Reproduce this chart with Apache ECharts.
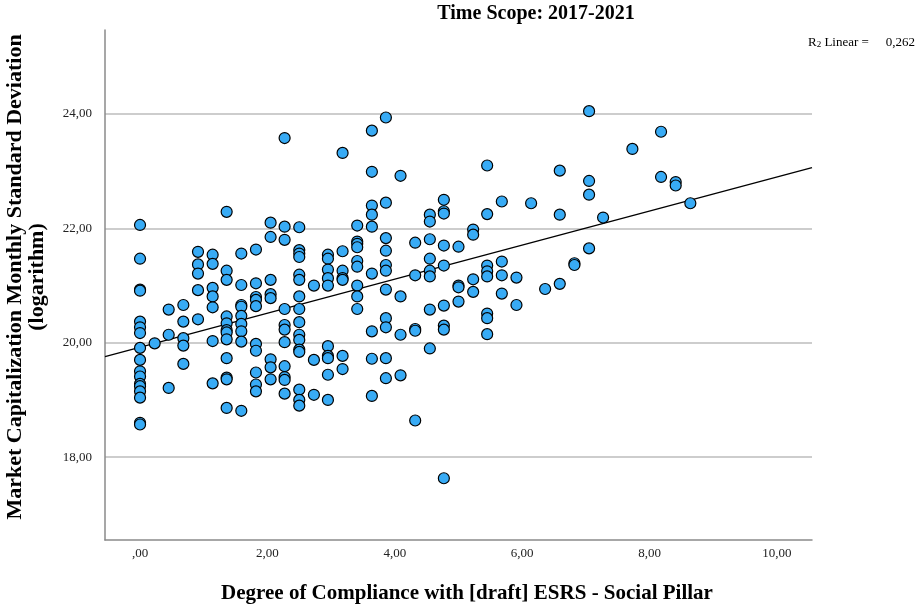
<!DOCTYPE html>
<html>
<head>
<meta charset="utf-8">
<script src="https://cdn.jsdelivr.net/npm/echarts@6/dist/echarts.min.js"></script>
<style>
  html, body { margin: 0; padding: 0; background: #ffffff; }
  #chart { width: 921px; height: 608px; }
</style>
</head>
<body>
<div id="chart"></div>
<script>
// Compliance score levels (x) and the log monthly std. deviation of market cap observed at each level (y)
const complianceLevels = [
  0.00, 0.23, 0.45, 0.68, 0.91, 1.14, 1.36, 1.59, 1.82, 2.05,
  2.27, 2.50, 2.73, 2.95, 3.18, 3.41, 3.64, 3.86, 4.09, 4.32,
  4.55, 4.77, 5.00, 5.23, 5.45, 5.68, 5.91, 6.14, 6.36, 6.59,
  6.82, 7.05, 7.27, 7.73, 8.18, 8.41, 8.64
];
const logStdDevByLevel = [
  [22.06, 21.47, 20.93, 20.91, 20.37, 20.27, 20.17, 19.91, 19.70, 19.50, 19.41, 19.28, 19.24, 19.15, 19.04, 18.60, 18.57],
  [19.99],
  [20.58, 20.14, 19.21],
  [20.66, 20.37, 20.08, 19.95, 19.63],
  [21.59, 21.37, 21.21, 20.92, 20.41],
  [21.54, 21.38, 20.96, 20.81, 20.62, 20.03, 19.29],
  [22.29, 21.26, 21.10, 20.46, 20.34, 20.22, 20.18, 20.06, 19.73, 19.39, 19.36, 18.86],
  [21.56, 21.01, 20.66, 20.63, 20.47, 20.33, 20.20, 20.02, 18.81],
  [21.63, 21.04, 20.80, 20.75, 20.64, 19.98, 19.86, 19.48, 19.27, 19.15],
  [22.10, 21.85, 21.10, 20.85, 20.78, 19.71, 19.57, 19.36],
  [23.58, 22.03, 21.80, 20.59, 20.31, 20.23, 20.01, 19.59, 19.40, 19.35, 19.11],
  [22.02, 21.62, 21.56, 21.50, 21.19, 21.10, 20.81, 20.59, 20.36, 20.14, 20.05, 19.88, 19.84, 19.18, 19.00, 18.90],
  [21.00, 19.70, 19.09],
  [21.54, 21.47, 21.28, 21.13, 21.00, 19.94, 19.77, 19.73, 19.44, 19.00],
  [23.32, 21.60, 21.26, 21.13, 21.10, 19.77, 19.54],
  [22.05, 21.77, 21.73, 21.67, 21.43, 21.33, 21.00, 20.81, 20.59],
  [23.71, 22.99, 22.40, 22.24, 22.03, 21.21, 20.20, 19.72, 19.07],
  [23.94, 22.45, 21.83, 21.61, 21.36, 21.26, 20.93, 20.43, 20.27, 19.73, 19.38],
  [22.92, 20.81, 20.14, 19.43],
  [21.75, 21.18, 20.24, 20.21, 18.64],
  [22.24, 22.12, 21.81, 21.47, 21.26, 21.16, 20.58, 19.90],
  [22.50, 22.30, 22.26, 21.70, 21.35, 20.65, 20.30, 20.23, 17.63],
  [21.68, 21.00, 20.97, 20.72],
  [21.98, 21.89, 21.11, 20.89],
  [23.10, 22.25, 21.35, 21.25, 21.16, 20.51, 20.43, 20.15],
  [22.47, 21.42, 21.18, 20.86],
  [21.14, 20.66],
  [22.44],
  [20.94],
  [23.01, 22.24, 21.03],
  [21.39, 21.36],
  [24.05, 22.83, 22.59, 21.65],
  [22.19],
  [23.39],
  [23.69, 22.90],
  [22.81, 22.75],
  [22.44]
];
const xTickValues = [0, 2, 4, 6, 8, 10];
const yTickValues = [18, 20, 22, 24];
const rSquaredLabel = '0,262';

const SERIF = "'Liberation Serif', 'Times New Roman', Times, serif";

// Flatten into [x, y] pairs
const points = [];
complianceLevels.forEach((x, i) => {
  logStdDevByLevel[i].forEach(y => points.push([x, y]));
});

// Ordinary least-squares fit line
const n = points.length;
let sx = 0, sy = 0, sxx = 0, sxy = 0;
points.forEach(([x, y]) => { sx += x; sy += y; sxx += x * x; sxy += x * y; });
const slope = (n * sxy - sx * sy) / (n * sxx - sx * sx);
const intercept = (sy - slope * sx) / n;

const X_MIN = -0.55, X_MAX = 10.55;
const Y_MIN = 16.55, Y_MAX = 25.47;
const fitLine = [
  [X_MIN, intercept + slope * X_MIN],
  [X_MAX, intercept + slope * X_MAX]
];

const fmt = v => (v === 0 ? ',00' : v.toFixed(2).replace('.', ','));

const chart = echarts.init(document.getElementById('chart'), null, { renderer: 'canvas' });
chart.setOption({
  backgroundColor: '#ffffff',
  animation: false,
  title: [
    {
      text: '{r|R}{s|2}{r| Linear =}',
      left: 803, top: 31,
      textStyle: {
        fontWeight: 'normal',
        rich: {
          r: { fontFamily: SERIF, fontSize: 13, fontWeight: 'normal', color: '#000' },
          s: { fontFamily: SERIF, fontSize: 9, fontWeight: 'normal', color: '#000', verticalAlign: 'bottom' }
        }
      }
    },
    {
      text: rSquaredLabel,
      right: 1, top: 31,
      textStyle: { fontFamily: SERIF, fontSize: 13, fontWeight: 'normal', color: '#000' }
    }
  ],
  graphic: [
    {
      type: 'text',
      x: 536, y: 14,
      style: {
        text: 'Time Scope: 2017-2021',
        fontFamily: SERIF, fontSize: 20, fontWeight: 'bold', fill: '#000',
        align: 'center', verticalAlign: 'middle'
      }
    },
    {
      type: 'text',
      x: 26, y: 277,
      rotation: Math.PI / 2,
      style: {
        text: 'Market Capitalization Monthly Standard Deviation\n(logarithm)',
        fontFamily: SERIF, fontSize: 22, fontWeight: 'bold', fill: '#000',
        lineHeight: 22, align: 'center', verticalAlign: 'middle'
      }
    },
    {
      type: 'text',
      x: 467, y: 594,
      style: {
        text: 'Degree of Compliance with [draft] ESRS - Social Pillar',
        fontFamily: SERIF, fontSize: 21, fontWeight: 'bold', fill: '#000',
        align: 'center', verticalAlign: 'middle'
      }
    }
  ],
  grid: { left: 105, right: 109, top: 30, bottom: 68, containLabel: false, outerBoundsMode: 'none' },
  xAxis: {
    type: 'value',
    min: X_MIN, max: X_MAX,
    axisLine: { show: true, onZero: false, lineStyle: { color: '#8a8a8a', width: 1.5 } },
    axisTick: { show: false, customValues: xTickValues },
    axisLabel: {
      customValues: xTickValues, margin: 7,
      fontFamily: SERIF, fontSize: 13, color: '#222', formatter: fmt
    },
    splitLine: { show: false }
  },
  yAxis: {
    type: 'value',
    min: Y_MIN, max: Y_MAX,
    axisLine: { show: true, onZero: false, lineStyle: { color: '#8a8a8a', width: 1.5 } },
    axisTick: { show: false, customValues: yTickValues },
    axisLabel: {
      customValues: yTickValues, margin: 13,
      fontFamily: SERIF, fontSize: 13, color: '#222', formatter: fmt
    },
    splitLine: { show: true, lineStyle: { color: '#bdbdbd', width: 1.5 } }
  },
  series: [
    {
      type: 'line',
      data: fitLine,
      symbol: 'none',
      clip: true,
      lineStyle: { color: '#000', width: 1.3 },
      z: 2,
      silent: true
    },
    {
      type: 'scatter',
      data: points,
      symbol: 'circle',
      symbolSize: 11,
      itemStyle: { color: '#38abf5', borderColor: '#000', borderWidth: 1.2, opacity: 1 },
      z: 3
    }
  ]
});
</script>
</body>
</html>
